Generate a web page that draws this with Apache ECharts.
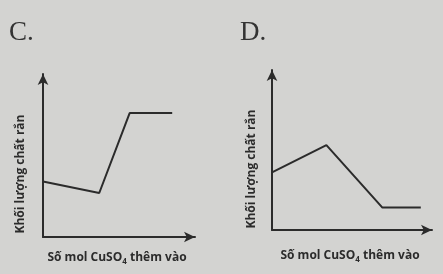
<!DOCTYPE html>
<html><head><meta charset="utf-8">
<script src="https://cdn.jsdelivr.net/npm/echarts@6/dist/echarts.min.js"></script>
<style>html,body{margin:0;padding:0;background:#d3d3d1;}#c{width:443px;height:274px;}</style>
</head><body><div id="c"></div>
<script>
const panelTitles = ['C.', 'D.'];
const xName = 'Số mol CuSO{sub|4} thêm vào';
const yName = 'Khối lượng chất rắn';
const seriesC_x = [0, 3.7, 5.7, 8.5];
const seriesC_y = [3.4, 2.7, 7.6, 7.6];
const seriesD_x = [0, 3.4, 6.9, 9.3];
const seriesD_y = [3.6, 5.3, 1.4, 1.4];

const ink = '#2b2b2b';
const font = '"Open Sans", "Noto Sans", sans-serif';
function xAxis(idx){
  return {type:'value', gridIndex:idx, min:0, max:10, splitLine:{show:false}, axisTick:{show:false}, axisLabel:{show:false},
    axisLine:{lineStyle:{color:ink,width:2}, symbol:['none','arrow'], symbolSize:[8,11]}};
}
function yAxis(idx){
  return {type:'value', gridIndex:idx, min:0, max:10, splitLine:{show:false}, axisTick:{show:false}, axisLabel:{show:false},
    axisLine:{lineStyle:{color:ink,width:2}, symbol:['none','arrow'], symbolSize:[8,11]}};
}
function xLabel(cx, cy){
  return {type:'text', x:cx, y:cy, style:{text:xName, align:'center', verticalAlign:'middle', fill:ink,
    font:'bold 12px ' + font,
    rich:{sub:{fontSize:8, fontWeight:'bold', fontFamily:font, fill:ink, padding:[7,0,0,0]}}}};
}
function yLabel(cx, cy){
  return {type:'text', x:cx, y:cy, rotation:Math.PI/2, style:{text:yName, align:'center', verticalAlign:'middle', fill:ink,
    font:'bold 12px ' + font}};
}
const chart = echarts.init(document.getElementById('c'), null, {renderer:'canvas'});
chart.setOption({
  backgroundColor:'#d3d3d1',
  animation:false,
  title:[
    {text:panelTitles[0], left:4, top:14, textStyle:{fontFamily:'"Liberation Serif", serif', fontWeight:'normal', fontSize:27, color:'#333'}},
    {text:panelTitles[1], left:235, top:14, textStyle:{fontFamily:'"Liberation Serif", serif', fontWeight:'normal', fontSize:27, color:'#333'}}
  ],
  grid:[
    {left:43, top:74, width:152, height:163},
    {left:272, top:70, width:160, height:160}
  ],
  xAxis:[xAxis(0), xAxis(1)],
  yAxis:[yAxis(0), yAxis(1)],
  graphic:[xLabel(117, 258), xLabel(350, 256), yLabel(21, 174), yLabel(252, 169)],
  series:[
    {type:'line', xAxisIndex:0, yAxisIndex:0, data:seriesC_x.map((x,i)=>[x,seriesC_y[i]]), showSymbol:false, lineStyle:{color:ink,width:2}},
    {type:'line', xAxisIndex:1, yAxisIndex:1, data:seriesD_x.map((x,i)=>[x,seriesD_y[i]]), showSymbol:false, lineStyle:{color:ink,width:2}}
  ]
});
</script></body></html>
